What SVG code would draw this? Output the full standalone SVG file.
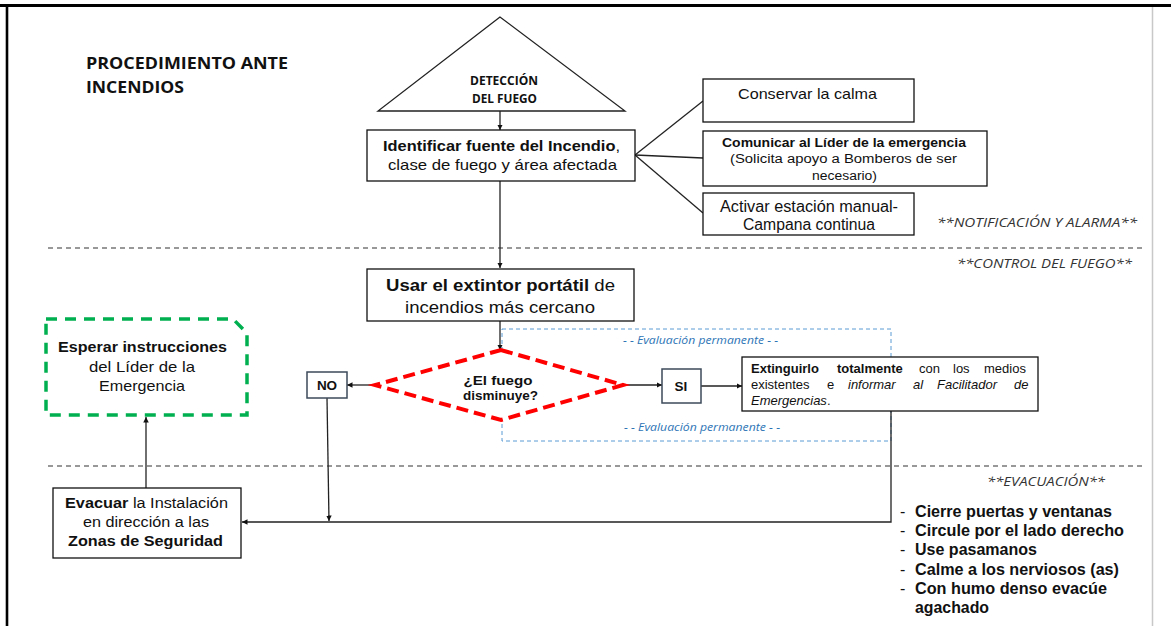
<svg xmlns="http://www.w3.org/2000/svg" width="1171" height="626" viewBox="0 0 1171 626">
<style>
.box{fill:#fff;stroke:#111;stroke-width:1.3}
.sbox{fill:#fff;stroke:#3b4a5a;stroke-width:1.5}
.con{fill:none;stroke:#222;stroke-width:1.3}
.sep{fill:none;stroke:#777;stroke-width:1.3;stroke-dasharray:5 4}
.t{font-family:"Liberation Sans",Arial,sans-serif;fill:#111}
.c{font-family:"Open Sans","Liberation Sans",sans-serif;fill:#111}
.b{font-weight:bold}
.i{font-style:italic}
.sec{font-family:"Open Sans","Liberation Sans",sans-serif;font-style:italic;fill:#333;font-size:12.5px}
.ev{font-family:"Open Sans","Liberation Sans",sans-serif;font-style:italic;fill:#2E75B6;font-size:10.5px}
</style>
<defs>
<marker id="ah" viewBox="0 0 10 10" refX="10" refY="5" markerWidth="5.5" markerHeight="5.5" markerUnits="userSpaceOnUse" orient="auto">
<path d="M0,0 L10,5 L0,10 z" fill="#111"/>
</marker>
</defs>
<rect width="1171" height="626" fill="#fff"/>
<!-- page borders -->
<line x1="0" y1="5.5" x2="1171" y2="5.5" stroke="#000" stroke-width="3"/>
<line x1="7" y1="4" x2="7" y2="626" stroke="#000" stroke-width="2.6"/>
<line x1="1152.5" y1="7" x2="1152.5" y2="626" stroke="#c8c8c8" stroke-width="1.5"/>

<!-- title -->
<g id="title">
<text class="c b" font-size="16.5" x="86" y="69" textLength="202" lengthAdjust="spacingAndGlyphs">PROCEDIMIENTO ANTE</text>
<text class="c b" font-size="16.5" x="86" y="93" textLength="98" lengthAdjust="spacingAndGlyphs">INCENDIOS</text>
</g>

<!-- separators and section labels -->
<g id="sections">
<line class="sep" x1="48" y1="248" x2="1143" y2="248"/>
<line class="sep" x1="48" y1="466" x2="1143" y2="466"/>
<text class="sec" x="937" y="227" textLength="200" lengthAdjust="spacingAndGlyphs">**NOTIFICACIÓN Y ALARMA**</text>
<text class="sec" x="957" y="268" textLength="175" lengthAdjust="spacingAndGlyphs">**CONTROL DEL FUEGO**</text>
<text class="sec" x="987" y="486" textLength="118" lengthAdjust="spacingAndGlyphs">**EVACUACIÓN**</text>
</g>

<!-- evaluation frame -->
<g id="evaluacion">
<rect x="502" y="329" width="389" height="112" fill="none" stroke="#5B9BD5" stroke-width="1" stroke-dasharray="4 3"/>
<text class="ev" x="623" y="344" textLength="155" lengthAdjust="spacingAndGlyphs">- - Evaluación  permanente - -</text>
<text class="ev" x="624" y="431" textLength="156" lengthAdjust="spacingAndGlyphs">- - Evaluación  permanente - -</text>
</g>

<!-- connectors -->
<g id="connectors">
<line class="con" x1="500" y1="111" x2="500" y2="130" marker-end="url(#ah)"/>
<line class="con" x1="500" y1="181" x2="500" y2="268" marker-end="url(#ah)"/>
<line class="con" x1="635" y1="155" x2="703" y2="101"/>
<line class="con" x1="635" y1="155" x2="703" y2="158"/>
<line class="con" x1="635" y1="155" x2="703" y2="213"/>
<line class="con" x1="500" y1="321" x2="500" y2="350" marker-end="url(#ah)"/>
<line class="con" x1="376" y1="385" x2="347" y2="385" marker-end="url(#ah)"/>
<line class="con" x1="622" y1="385" x2="662" y2="385" marker-end="url(#ah)"/>
<line class="con" x1="701" y1="386" x2="742" y2="386" marker-end="url(#ah)"/>
<line class="con" x1="327" y1="398" x2="329" y2="521" marker-end="url(#ah)"/>
<polyline class="con" points="891,411 891,522 242,522" marker-end="url(#ah)"/>
<line class="con" x1="146" y1="488" x2="146" y2="417" marker-end="url(#ah)"/>
</g>

<!-- nodes -->
<g id="deteccion">
<polygon points="500,17 378,111 625,111" fill="#fff" stroke="#222" stroke-width="1.3"/>
<text class="c b" font-size="13" x="504" y="85" text-anchor="middle" textLength="68" lengthAdjust="spacingAndGlyphs">DETECCIÓN</text>
<text class="c b" font-size="13" x="504.5" y="103" text-anchor="middle" textLength="65" lengthAdjust="spacingAndGlyphs">DEL FUEGO</text>
</g>

<g id="identificar">
<rect class="box" x="367" y="130" width="268" height="51"/>
<text class="t" font-size="15" x="383" y="151" textLength="237" lengthAdjust="spacingAndGlyphs"><tspan class="b">Identificar fuente del Incendio</tspan>,</text>
<text class="t" font-size="15" x="388" y="170" textLength="229" lengthAdjust="spacingAndGlyphs">clase de fuego y área afectada</text>
</g>

<g id="calma">
<rect class="box" x="703" y="79" width="211" height="43"/>
<text class="t" font-size="15" x="738" y="99" textLength="139" lengthAdjust="spacingAndGlyphs">Conservar la calma</text>
</g>

<g id="comunicar">
<rect class="box" x="703" y="131" width="284" height="55"/>
<text class="t b" font-size="12.5" x="722" y="147" textLength="244" lengthAdjust="spacingAndGlyphs">Comunicar al Líder de la emergencia</text>
<text class="t" font-size="12.5" x="730" y="163" textLength="227" lengthAdjust="spacingAndGlyphs">(Solicita apoyo a Bomberos de ser</text>
<text class="t" font-size="12.5" x="812" y="180" textLength="65" lengthAdjust="spacingAndGlyphs">necesario)</text>
</g>

<g id="activar">
<rect class="box" x="703" y="193" width="211" height="42"/>
<text class="t" font-size="16" x="720" y="212" textLength="178" lengthAdjust="spacingAndGlyphs">Activar estación manual-</text>
<text class="t" font-size="16" x="743" y="230" textLength="132" lengthAdjust="spacingAndGlyphs">Campana continua</text>
</g>

<g id="extintor">
<rect class="box" x="367" y="269" width="267" height="52"/>
<text class="t" font-size="17" x="386" y="291" textLength="229" lengthAdjust="spacingAndGlyphs"><tspan class="b">Usar el extintor portátil</tspan> de</text>
<text class="t" font-size="17" x="405" y="313" textLength="190" lengthAdjust="spacingAndGlyphs">incendios más cercano</text>
</g>

<g id="decision">
<polygon points="501,350 623,385 501,420 375,385" fill="#fff" stroke="#FF0000" stroke-width="4" stroke-dasharray="12 6"/>
<text class="t b" font-size="13.5" x="498" y="385" text-anchor="middle" textLength="69" lengthAdjust="spacingAndGlyphs">¿El fuego</text>
<text class="t b" font-size="13.5" x="500.5" y="400" text-anchor="middle" textLength="75" lengthAdjust="spacingAndGlyphs">disminuye?</text>
</g>

<g id="no">
<rect class="sbox" x="307" y="372" width="40" height="26"/>
<text class="t b" font-size="13.5" x="327" y="390" text-anchor="middle">NO</text>
</g>

<g id="si">
<rect class="sbox" x="662" y="369" width="39" height="34"/>
<text class="t b" font-size="13.5" x="681" y="391" text-anchor="middle">SI</text>
</g>

<g id="extinguirlo">
<rect class="box" x="742" y="357" width="296" height="54"/>
<text class="t" font-size="13" y="373"><tspan class="b" x="751">Extinguirlo</tspan><tspan class="b" x="837">totalmente</tspan><tspan x="919">con</tspan><tspan x="953">los</tspan><tspan x="984">medios</tspan></text>
<text class="t" font-size="13" y="389"><tspan x="751">existentes</tspan><tspan x="827">e</tspan><tspan class="i" x="848">informar</tspan><tspan class="i" x="913">al</tspan><tspan class="i" x="937">Facilitador</tspan><tspan class="i" x="1014">de</tspan></text>
<text class="t" font-size="13" y="405"><tspan class="i" x="751">Emergencias</tspan>.</text>
</g>

<g id="esperar">
<path d="M46,319 H233 L247,333 V415 H46 Z" fill="none" stroke="#00B050" stroke-width="3.5" stroke-dasharray="11 8"/>
<text class="t b" font-size="15" x="58" y="352" textLength="169" lengthAdjust="spacingAndGlyphs">Esperar instrucciones</text>
<text class="t" font-size="15" x="89" y="372" textLength="106" lengthAdjust="spacingAndGlyphs">del Líder  de la</text>
<text class="t" font-size="15" x="99" y="391" textLength="86" lengthAdjust="spacingAndGlyphs">Emergencia</text>
</g>

<g id="evacuar">
<rect class="box" x="53" y="488" width="188" height="70"/>
<text class="t" font-size="15.5" x="65" y="508" textLength="163" lengthAdjust="spacingAndGlyphs"><tspan class="b">Evacuar</tspan> la Instalación</text>
<text class="t" font-size="15.5" x="83" y="527" textLength="126" lengthAdjust="spacingAndGlyphs">en dirección a las</text>
<text class="t b" font-size="15.5" x="68" y="546" textLength="155" lengthAdjust="spacingAndGlyphs">Zonas de Seguridad</text>
</g>

<g id="recomendaciones">
<g class="t" font-size="16">
<text x="900" y="517">-</text>
<text x="900" y="536">-</text>
<text x="900" y="555">-</text>
<text x="900" y="575">-</text>
<text x="900" y="594">-</text>
</g>
<g class="t b" font-size="16">
<text x="915" y="517" textLength="197" lengthAdjust="spacingAndGlyphs">Cierre puertas y ventanas</text>
<text x="915" y="536" textLength="209" lengthAdjust="spacingAndGlyphs">Circule por el lado derecho</text>
<text x="915" y="555" textLength="122" lengthAdjust="spacingAndGlyphs">Use pasamanos</text>
<text x="915" y="575" textLength="204" lengthAdjust="spacingAndGlyphs">Calme a los nerviosos (as)</text>
<text x="915" y="594" textLength="192" lengthAdjust="spacingAndGlyphs">Con humo denso evacúe</text>
<text x="915" y="613" textLength="74" lengthAdjust="spacingAndGlyphs">agachado</text>
</g>
</g>
</svg>
